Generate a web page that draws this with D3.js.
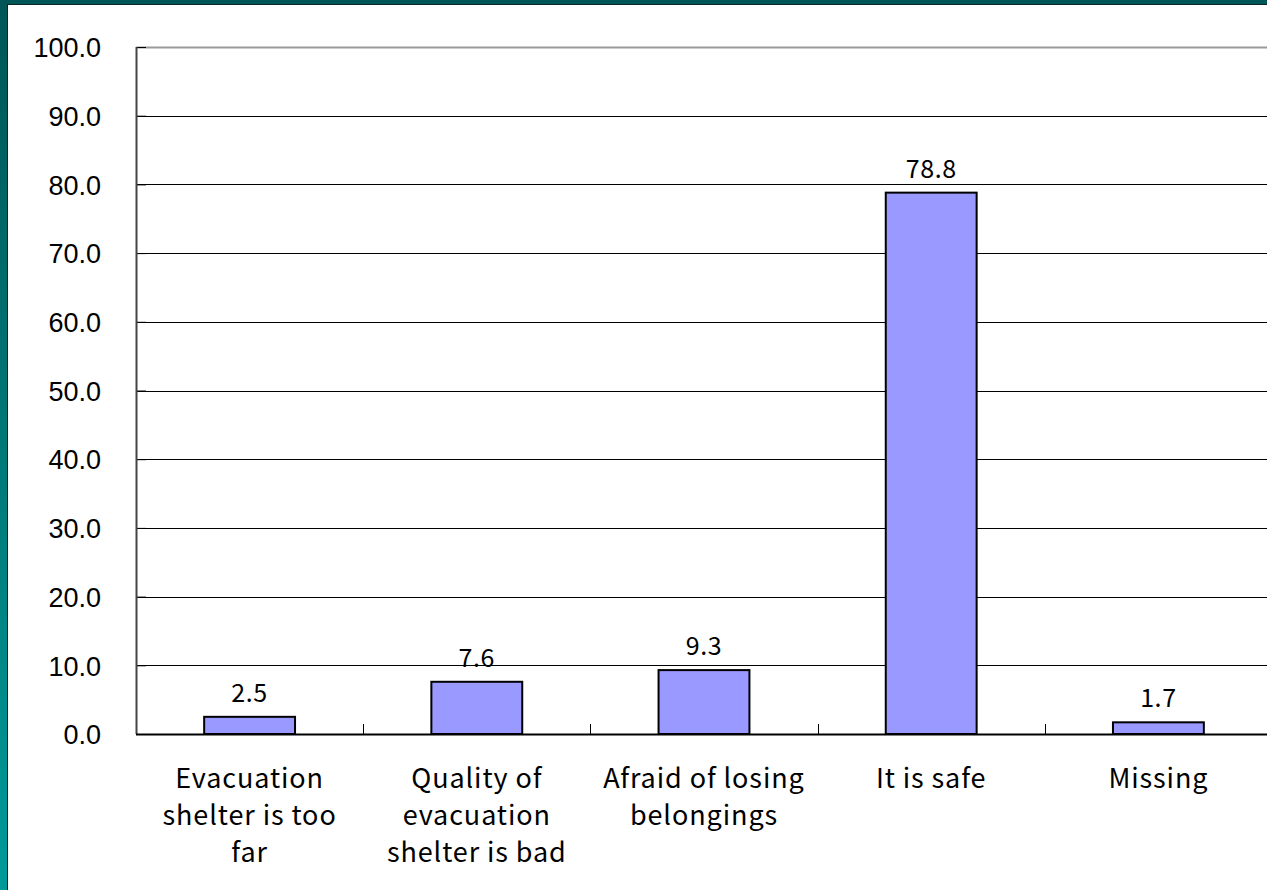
<!DOCTYPE html>
<html>
<head>
<meta charset="utf-8">
<script src="https://cdn.jsdelivr.net/npm/d3@7"></script>
<style>
  html, body { margin: 0; padding: 0; }
  body { width: 1267px; height: 890px; overflow: hidden; background: linear-gradient(#005656, #009a9a); }
  #chart { position: absolute; left: 0; top: 0; }
</style>
</head>
<body>
<div id="chart"></div>
<script>
// Chart data
const categories = ["Evacuation shelter is too far", "Quality of evacuation shelter is bad",
                    "Afraid of losing belongings", "It is safe", "Missing"];
const categoryLines = [["Evacuation", "shelter is too", "far"],
                       ["Quality of", "evacuation", "shelter is bad"],
                       ["Afraid of losing", "belongings"],
                       ["It is safe"],
                       ["Missing"]];
const values = [2.5, 7.6, 9.3, 78.8, 1.7];
const yTicks = [0, 10, 20, 30, 40, 50, 60, 70, 80, 90, 100];

const W = 1267, H = 890;
const plot = {left: 136, top: 47, bottom: 734, right: 1272};

const svg = d3.select("#chart")
    .append("svg")
    .attr("width", W)
    .attr("height", H);

// White slide panel with a dark shadow edge
svg.append("rect")
    .attr("x", 7).attr("y", 4)
    .attr("width", W).attr("height", H)
    .attr("fill", "#0a2424");
svg.append("rect")
    .attr("x", 8).attr("y", 5)
    .attr("width", W).attr("height", H)
    .attr("fill", "#fff");

const x = d3.scaleBand()
    .domain(categories)
    .range([plot.left, plot.right])
    .paddingInner(0.6)
    .paddingOuter(0.3);

const y = d3.scaleLinear()
    .domain([0, 100])
    .range([plot.bottom, plot.top]);

const step = x.step();

// Gridlines
svg.append("g")
    .selectAll("line")
    .data(yTicks.filter(d => d > 0))
    .join("line")
    .attr("x1", plot.left)
    .attr("x2", W)
    .attr("y1", d => Math.round(y(d)) + 0.5)
    .attr("y2", d => Math.round(y(d)) + 0.5)
    .attr("stroke", d => d === 100 ? "#999" : "#000")
    .attr("stroke-width", d => d === 100 ? 2 : 1);

// Y axis with inward ticks
const yAxis = svg.append("g")
    .attr("transform", `translate(${plot.left},0)`)
    .call(d3.axisRight(y).tickValues(yTicks).tickSize(0).tickFormat(d3.format(".1f")));
yAxis.select(".domain").remove();
yAxis.selectAll(".tick line")
    .attr("x2", 10)
    .attr("stroke", "#000");
yAxis.selectAll(".tick text")
    .attr("x", -35)
    .attr("dy", "0.36em")
    .attr("text-anchor", "end")
    .attr("font-family", "'Liberation Sans', Arial, sans-serif")
    .attr("font-size", 27)
    .attr("fill", "#000");

svg.append("line")
    .attr("x1", plot.left + 0.5).attr("x2", plot.left + 0.5)
    .attr("y1", plot.top).attr("y2", plot.bottom)
    .attr("stroke", "#444").attr("stroke-width", 2);

// Bars
svg.append("g")
    .selectAll("rect")
    .data(values)
    .join("rect")
    .attr("x", (d, i) => x(categories[i]))
    .attr("y", d => y(d))
    .attr("width", x.bandwidth())
    .attr("height", d => y(0) - y(d))
    .attr("fill", "#9999ff")
    .attr("stroke", "#000")
    .attr("stroke-width", 2);

// Bottom axis line and category ticks
svg.append("line")
    .attr("x1", plot.left).attr("x2", W)
    .attr("y1", plot.bottom + 0.5).attr("y2", plot.bottom + 0.5)
    .attr("stroke", "#000").attr("stroke-width", 2);

svg.append("g")
    .selectAll("line")
    .data(categories.slice(1))
    .join("line")
    .attr("x1", d => Math.round(x(d) - step * x.paddingOuter()) + 0.5)
    .attr("x2", d => Math.round(x(d) - step * x.paddingOuter()) + 0.5)
    .attr("y1", plot.bottom - 10)
    .attr("y2", plot.bottom)
    .attr("stroke", "#000");

// Value labels
svg.append("g")
    .selectAll("text")
    .data(values)
    .join("text")
    .attr("x", (d, i) => x(categories[i]) + x.bandwidth() / 2)
    .attr("y", d => y(d) - 15)
    .attr("text-anchor", "middle")
    .attr("font-family", "'Noto Sans CJK JP', sans-serif")
    .attr("font-size", 25)
    .attr("letter-spacing", 0.6)
    .attr("fill", "#000")
    .text(d => d.toFixed(1));

// Category labels
const labels = svg.append("g")
    .selectAll("text")
    .data(categories)
    .join("text")
    .attr("x", d => x(d) + x.bandwidth() / 2)
    .attr("y", 788)
    .attr("text-anchor", "middle")
    .attr("font-family", "'Noto Sans CJK JP', sans-serif")
    .attr("font-size", 27)
    .attr("letter-spacing", 0.9)
    .attr("fill", "#000");

labels.selectAll("tspan")
    .data((d, i) => categoryLines[i])
    .join("tspan")
    .attr("x", function() { return d3.select(this.parentNode).attr("x"); })
    .attr("dy", (d, i) => i === 0 ? 0 : 37)
    .text(d => d);
</script>
</body>
</html>
